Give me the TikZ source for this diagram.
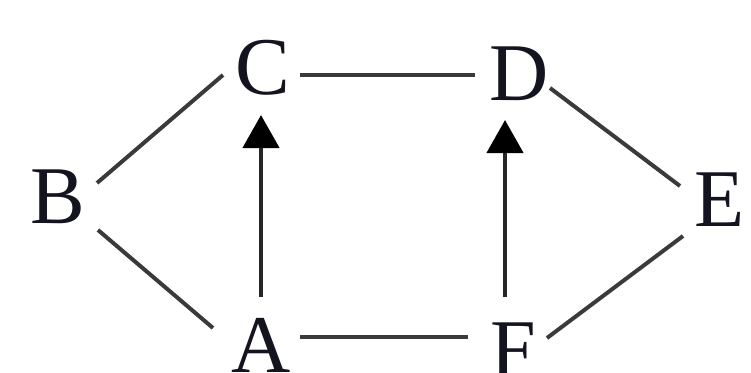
\documentclass[tikz,border=0pt]{standalone}
\usepackage{fontspec}
\setmainfont{Liberation Serif}
\usetikzlibrary{arrows.meta}
\definecolor{labelcol}{HTML}{141420}
\definecolor{edgecol}{HTML}{3A3A3A}
\begin{document}
\begin{tikzpicture}[x=1pt,y=-1pt,
  lbl/.style={inner sep=0pt, font=\fontsize{82}{82}\selectfont, text=labelcol},
  edge/.style={line width=4pt, draw=edgecol},
  arr/.style={edge, line width=4.5pt, draw=black!85, -{Triangle[width=36pt,length=33pt,color=black]}}]
\useasboundingbox (0,0) rectangle (751,372);
\node[lbl] (C) at (263,68) {C};
\node[lbl] (D) at (519,74) {D};
\node[lbl] (B) at (58,197) {B};
\node[lbl] (E) at (720,200) {E};
\node[lbl] (A) at (261,345) {A};
\node[lbl] (F) at (513,350) {F};
% undirected edges
\draw[edge] ([shift={(39,-14)}]B.center) -- ([shift={(-40,7)}]C.center);
\draw[edge] ([shift={(37,7)}]C.center) -- ([shift={(-44,1)}]D.center);
\draw[edge] ([shift={(31,14)}]D.center) -- ([shift={(-40,-14)}]E.center);
\draw[edge] ([shift={(40,33)}]B.center) -- ([shift={(-48,-17)}]A.center);
\draw[edge] ([shift={(39,-8)}]A.center) -- ([shift={(-45,-13)}]F.center);
\draw[edge] ([shift={(34,-12)}]F.center) -- ([shift={(-37,36)}]E.center);
% arrows
\draw[arr] ([shift={(0,-48)}]A.center) -- ([shift={(-2,47)}]C.center);
\draw[arr] ([shift={(-8,-53)}]F.center) -- ([shift={(-14,46)}]D.center);
\end{tikzpicture}
\end{document}
